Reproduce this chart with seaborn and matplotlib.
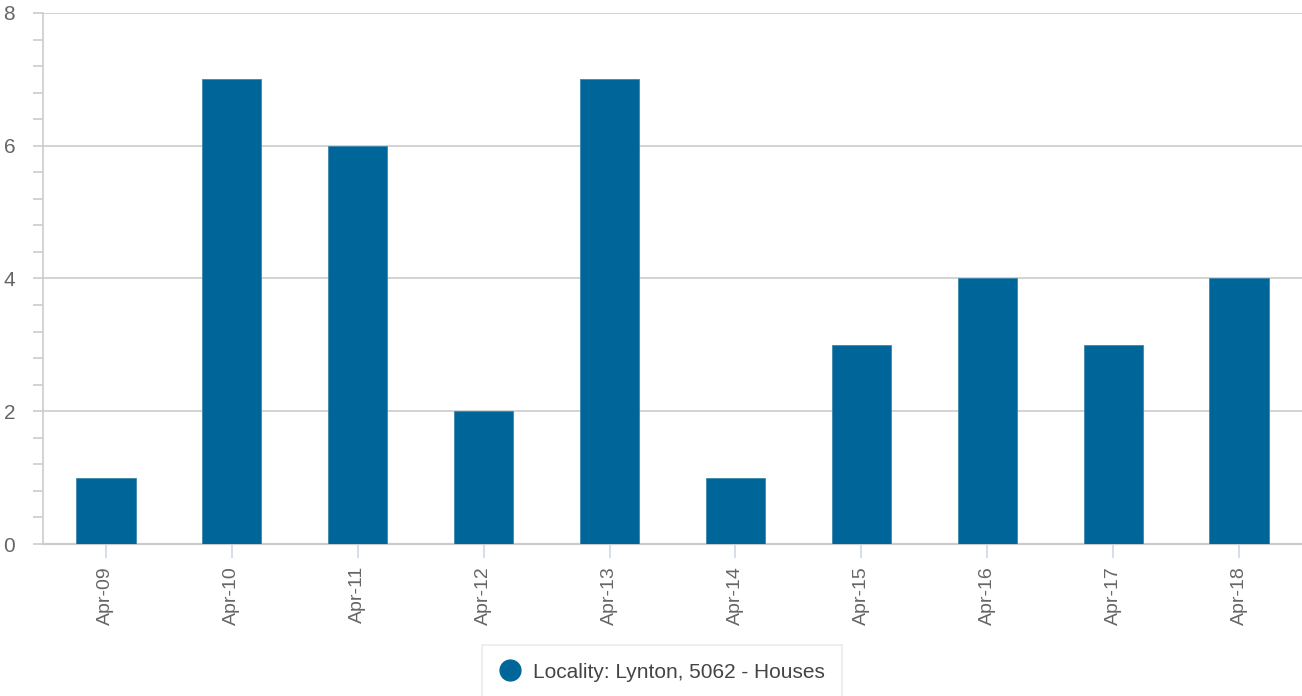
import matplotlib
matplotlib.use('Agg')
import matplotlib.pyplot as plt
import seaborn as sns
import pandas as pd
from matplotlib.ticker import MultipleLocator
from matplotlib.lines import Line2D

# data
months = ['Apr-09', 'Apr-10', 'Apr-11', 'Apr-12', 'Apr-13',
          'Apr-14', 'Apr-15', 'Apr-16', 'Apr-17', 'Apr-18']
sales = [1, 7, 6, 2, 7, 1, 3, 4, 3, 4]
series_name = 'Locality: Lynton, 5062 - Houses'

df = pd.DataFrame({'Month': months, 'Sales': sales})

sns.set_style('white')
plt.rcParams['font.family'] = ['Liberation Sans', 'DejaVu Sans']

bar_color = '#006699'
grid_color = '#cccccc'
text_color = '#666666'

fig = plt.figure(figsize=(13.02, 6.96), dpi=100)
ax = fig.add_axes([43 / 1302, 152 / 696, 1 - 43 / 1302, (544 - 13) / 696])

sns.barplot(x='Month', y='Sales', data=df, color=bar_color, width=0.47,
            saturation=1, edgecolor='#3d87ad', linewidth=0.6, ax=ax, zorder=3)

ax.set_xlim(-0.5, len(months) - 0.5)
ax.set_ylim(0, 8)
ax.set_xlabel('')
ax.set_ylabel('')

ax.yaxis.set_major_locator(MultipleLocator(2))
ax.yaxis.set_minor_locator(MultipleLocator(0.4))
ax.grid(axis='y', which='major', color=grid_color, linewidth=1.2, zorder=0)
ax.set_axisbelow(True)

for s in ['top', 'right']:
    ax.spines[s].set_visible(False)
ax.spines['left'].set_color(grid_color)
ax.spines['left'].set_linewidth(1.2)
ax.spines['bottom'].set_color(grid_color)
ax.spines['bottom'].set_linewidth(1.6)

ax.tick_params(axis='y', which='both', left=True, length=7, width=1.2,
               color=grid_color, labelcolor=text_color, labelsize=15, pad=13)
ax.tick_params(axis='x', bottom=True, length=10, width=1.2, color='#ccd6eb',
               labelcolor=text_color, labelsize=14, labelrotation=90, pad=6)

handle = Line2D([], [], marker='o', linestyle='none', markersize=15,
                color=bar_color)
leg = fig.legend([handle], [series_name], loc='upper center',
                 bbox_to_anchor=(0.5085, 51 / 696), frameon=True, fancybox=False,
                 fontsize=15, labelcolor='#444444', handletextpad=0.6,
                 borderpad=0.85, handlelength=1.0, borderaxespad=0)
leg.get_frame().set_edgecolor('#e6e6e6')
leg.get_frame().set_linewidth(1.2)

fig.savefig('out.png', dpi=100)
